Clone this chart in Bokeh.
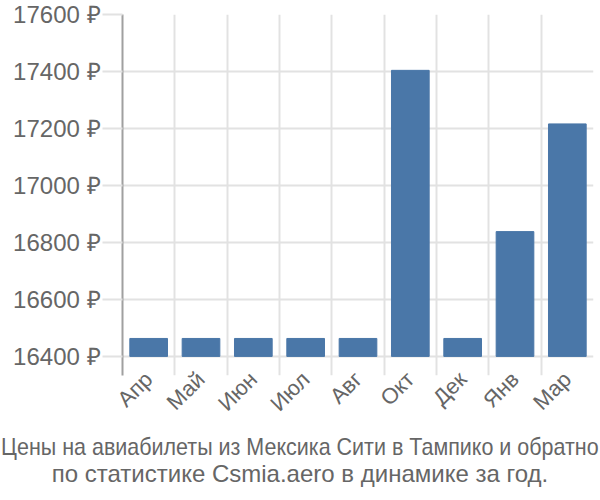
from bokeh.plotting import figure
from bokeh.models import FixedTicker, Div
from bokeh.layouts import column
from bokeh.embed import file_html
from bokeh.resources import INLINE

months = ["Апр", "Май", "Июн", "Июл", "Авг", "Окт", "Дек", "Янв", "Мар"]
prices = [16463, 16463, 16463, 16463, 16463, 17404, 16463, 16838, 17216]
y_ticks = [16400, 16600, 16800, 17000, 17200, 17400, 17600]
caption = ["Цены на авиабилеты из Мексика Сити в Тампико и обратно",
           "по статистике Csmia.aero в динамике за год."]

FONT = "Liberation Sans"
TXT = "#666666"
GRID = "#e2e2e2"

n = len(months)
centers = [i + 0.5 for i in range(n)]

p = figure(width=600, height=433, x_range=(0, n), y_range=(16333, 17600),
           output_backend="svg", toolbar_location=None,
           min_border_left=122, min_border_right=7, min_border_top=14,
           min_border_bottom=58)
p.outline_line_color = None

p.vbar(x=centers, top=prices, bottom=16400, width=0.72,
       fill_color="#4a77a8", line_color="#4a77a8")

# grids
p.xgrid.ticker = FixedTicker(ticks=list(range(n + 1)))
p.ygrid.ticker = FixedTicker(ticks=y_ticks)
p.xgrid.grid_line_color = GRID
p.ygrid.grid_line_color = GRID
p.xgrid.grid_line_width = 2
p.ygrid.grid_line_width = 2

# y axis
ya = p.yaxis[0]
ya.ticker = FixedTicker(ticks=y_ticks)
ya.major_label_overrides = {t: f"{t} ₽" for t in y_ticks}
ya.axis_line_color = "#a0a0a0"
ya.axis_line_width = 2
ya.major_tick_out = 20
ya.major_tick_in = 0
ya.major_tick_line_color = GRID
ya.major_tick_line_width = 2
ya.minor_tick_line_color = None
ya.major_label_text_font = FONT
ya.major_label_text_font_size = "24px"
ya.major_label_text_color = TXT
ya.major_label_standoff = 2

# x axis
xa = p.xaxis[0]
xa.ticker = FixedTicker(ticks=centers)
xa.major_label_overrides = {c: m for c, m in zip(centers, months)}
xa.axis_line_color = None
xa.major_tick_line_color = None
xa.minor_tick_line_color = None
xa.major_tick_out = 0
xa.major_tick_in = 0
xa.major_label_orientation = 0.785398
xa.major_label_text_font = FONT
xa.major_label_text_font_size = "22px"
xa.major_label_text_color = TXT
xa.major_label_standoff = 0

html = (
    '<div style="display:flex;justify-content:center;width:600px;white-space:nowrap;">'
    f'<span style="transform:scaleX(0.895);">{caption[0]}</span></div>'
    '<div style="display:flex;justify-content:center;width:600px;white-space:nowrap;">'
    f'<span>{caption[1]}</span></div>'
)
cap = Div(text=html, width=600, height=60, margin=0,
          styles={"font-family": FONT, "font-size": "24px", "color": TXT,
                  "line-height": "27px", "width": "600px"})

layout = column(p, cap, spacing=0)
open("out.html", "w").write(file_html(layout, INLINE))
